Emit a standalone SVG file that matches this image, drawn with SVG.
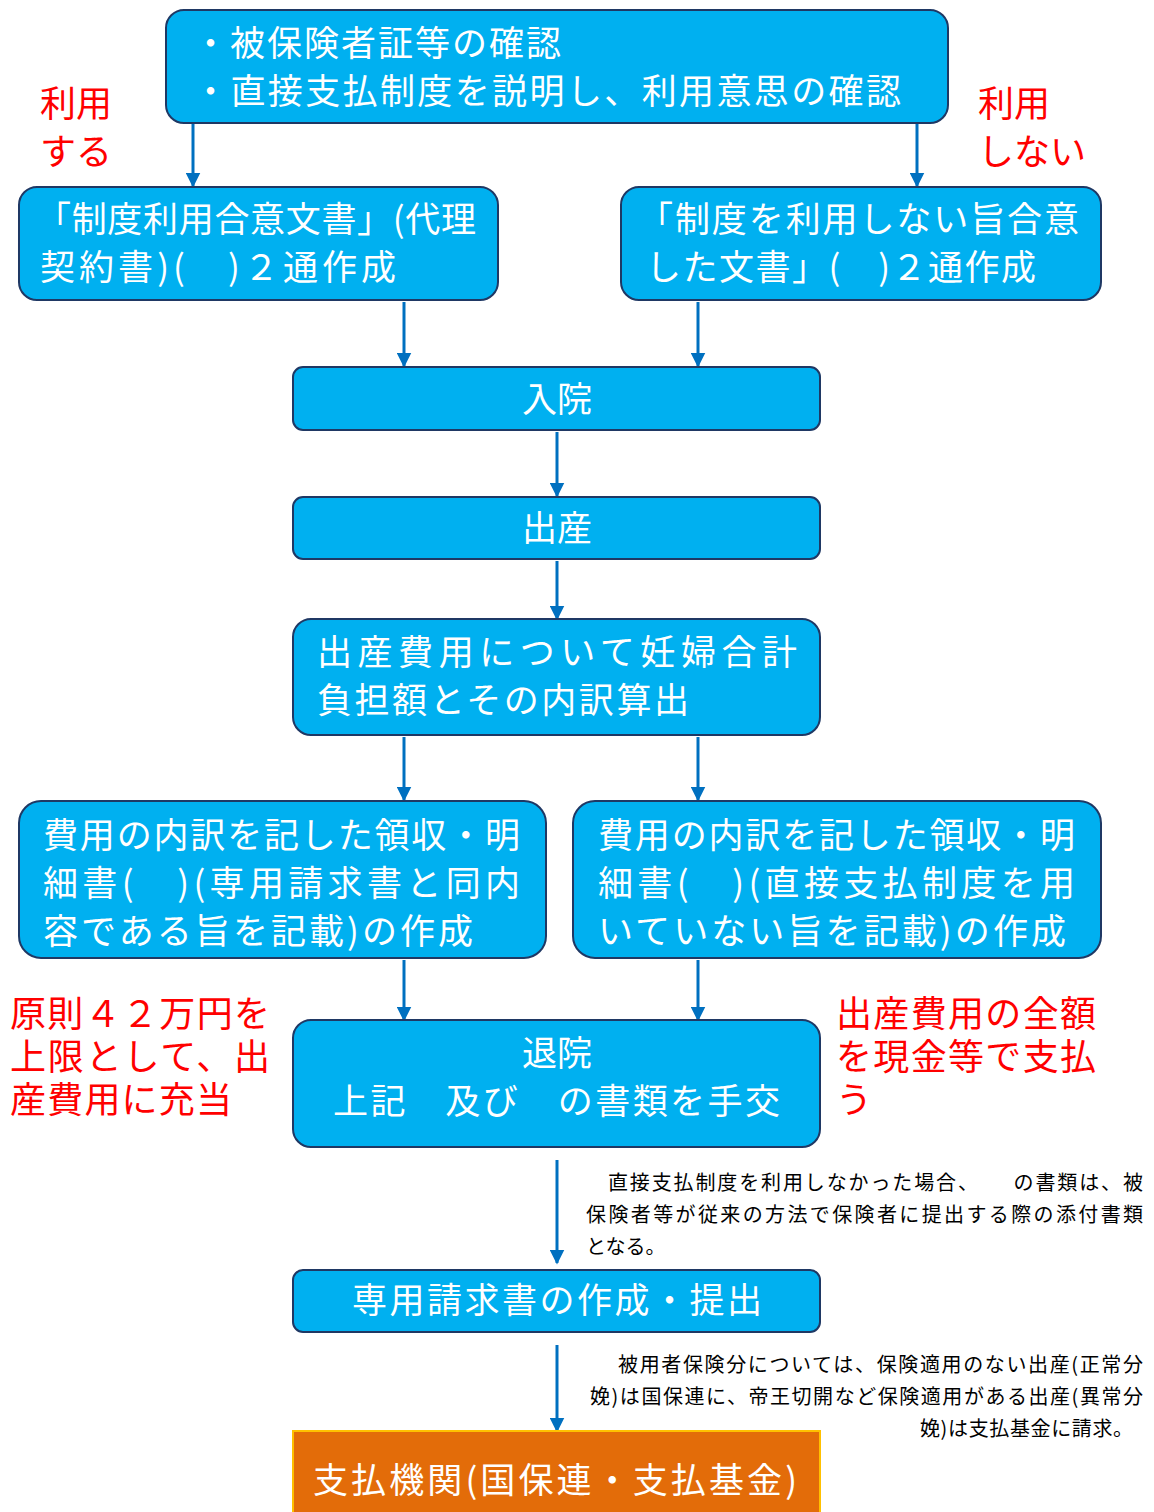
<svg xmlns="http://www.w3.org/2000/svg" width="1154" height="1512" viewBox="0 0 1154 1512">
<style>
.box{fill:#00B0F0;stroke:#1F3864;stroke-width:2}
.t{font-family:"Noto Sans CJK JP","Noto Sans",sans-serif;fill:#FFFFFF;font-size:35px}
.r{font-family:"Noto Sans CJK JP","Noto Sans",sans-serif;fill:#FF0000;font-size:36px}
.n{font-family:"Noto Sans CJK JP","Noto Sans",sans-serif;fill:#000000;font-size:20px}
.c{stroke:#0070C0;stroke-width:3;fill:none;marker-end:url(#ah)}
</style>
<defs>
<marker id="ah" viewBox="0 0 10 10" refX="9" refY="5" markerWidth="5" markerHeight="5" orient="auto" markerUnits="strokeWidth">
<path d="M0,0 L10,5 L0,10 z" fill="#0070C0"/>
</marker>
</defs>
<rect width="1154" height="1512" fill="#FFFFFF"/>
<g id="connectors">
<line class="c" x1="193" y1="124" x2="193" y2="186"/>
<line class="c" x1="917" y1="124" x2="917" y2="186"/>
<line class="c" x1="404" y1="302" x2="404" y2="366"/>
<line class="c" x1="698" y1="302" x2="698" y2="366"/>
<line class="c" x1="557" y1="432" x2="557" y2="496"/>
<line class="c" x1="557" y1="561" x2="557" y2="619"/>
<line class="c" x1="404" y1="737" x2="404" y2="800"/>
<line class="c" x1="698" y1="737" x2="698" y2="800"/>
<line class="c" x1="404" y1="960" x2="404" y2="1020"/>
<line class="c" x1="698" y1="960" x2="698" y2="1020"/>
<line class="c" x1="557" y1="1160" x2="557" y2="1263"/>
<line class="c" x1="557" y1="1345" x2="557" y2="1431"/>
</g>
<g id="n1">
<rect class="box" x="166" y="10" width="782" height="113" rx="18"/>
<text class="t" x="193" y="56" textLength="368">・被保険者証等の確認</text>
<text class="t" x="193" y="104" textLength="708">・直接支払制度を説明し、利用意思の確認</text>
</g>
<g id="lbl-use">
<text class="r" x="40" y="117">利用</text>
<text class="r" x="40" y="165">する</text>
</g>
<g id="lbl-nouse">
<text class="r" x="978" y="117">利用</text>
<text class="r" x="978" y="165">しない</text>
</g>
<g id="n2a">
<rect class="box" x="19" y="187" width="479" height="113" rx="18"/>
<text class="t" x="36" y="232" textLength="440">「制度利用合意文書」(代理</text>
<text class="t" x="40" y="280" textLength="356">契約書)(　)２通作成</text>
</g>
<g id="n2b">
<rect class="box" x="621" y="187" width="480" height="113" rx="18"/>
<text class="t" x="638" y="232" textLength="441">「制度を利用しない旨合意</text>
<text class="t" x="646" y="280" textLength="390">した文書」(　)２通作成</text>
</g>
<g id="n3">
<rect class="box" x="293" y="367" width="527" height="63" rx="10"/>
<text class="t" x="557" y="412" text-anchor="middle">入院</text>
</g>
<g id="n4">
<rect class="box" x="293" y="497" width="527" height="62" rx="10"/>
<text class="t" x="557" y="541" text-anchor="middle">出産</text>
</g>
<g id="n5">
<rect class="box" x="293" y="619" width="527" height="116" rx="18"/>
<text class="t" x="317" y="665" textLength="480">出産費用について妊婦合計</text>
<text class="t" x="317" y="713" textLength="372">負担額とその内訳算出</text>
</g>
<g id="n6a">
<rect class="box" x="19" y="801" width="527" height="157" rx="22"/>
<text class="t" x="43" y="848" textLength="477">費用の内訳を記した領収・明</text>
<text class="t" x="43" y="896" textLength="477">細書(　)(専用請求書と同内</text>
<text class="t" x="43" y="944" textLength="430">容である旨を記載)の作成</text>
</g>
<g id="n6b">
<rect class="box" x="573" y="801" width="528" height="157" rx="22"/>
<text class="t" x="598" y="848" textLength="477">費用の内訳を記した領収・明</text>
<text class="t" x="598" y="896" textLength="477">細書(　)(直接支払制度を用</text>
<text class="t" x="598" y="944" textLength="468">いていない旨を記載)の作成</text>
</g>
<g id="lbl-left">
<text class="r" x="10" y="1027" textLength="260">原則４２万円を</text>
<text class="r" x="10" y="1070" textLength="260">上限として、出</text>
<text class="r" x="10" y="1113" textLength="222">産費用に充当</text>
</g>
<g id="lbl-right">
<text class="r" x="836" y="1027" textLength="260">出産費用の全額</text>
<text class="r" x="836" y="1070" textLength="260">を現金等で支払</text>
<text class="r" x="836" y="1113">う</text>
</g>
<g id="n7">
<rect class="box" x="293" y="1020" width="527" height="127" rx="18"/>
<text class="t" x="557" y="1066" text-anchor="middle">退院</text>
<text class="t" x="333" y="1114" textLength="447">上記　及び　の書類を手交</text>
</g>
<g id="note1">
<text class="n" x="586" y="1190" textLength="557">　直接支払制度を利用しなかった場合、　　の書類は、被</text>
<text class="n" x="586" y="1222" textLength="557">保険者等が従来の方法で保険者に提出する際の添付書類</text>
<text class="n" x="586" y="1254">となる。</text>
</g>
<g id="n8">
<rect class="box" x="293" y="1270" width="527" height="62" rx="10"/>
<text class="t" x="352" y="1313" textLength="410">専用請求書の作成・提出</text>
</g>
<g id="note2">
<text class="n" x="618" y="1372" textLength="525">被用者保険分については、保険適用のない出産(正常分</text>
<text class="n" x="590" y="1404" textLength="553">娩)は国保連に、帝王切開など保険適用がある出産(異常分</text>
<text class="n" x="920" y="1436" textLength="213">娩)は支払基金に請求。</text>
</g>
<g id="n9">
<rect x="293" y="1431" width="527" height="90" fill="#E36C09" stroke="#FFC000" stroke-width="2"/>
<text class="t" x="313" y="1493" textLength="484">支払機関(国保連・支払基金)</text>
</g>
</svg>
